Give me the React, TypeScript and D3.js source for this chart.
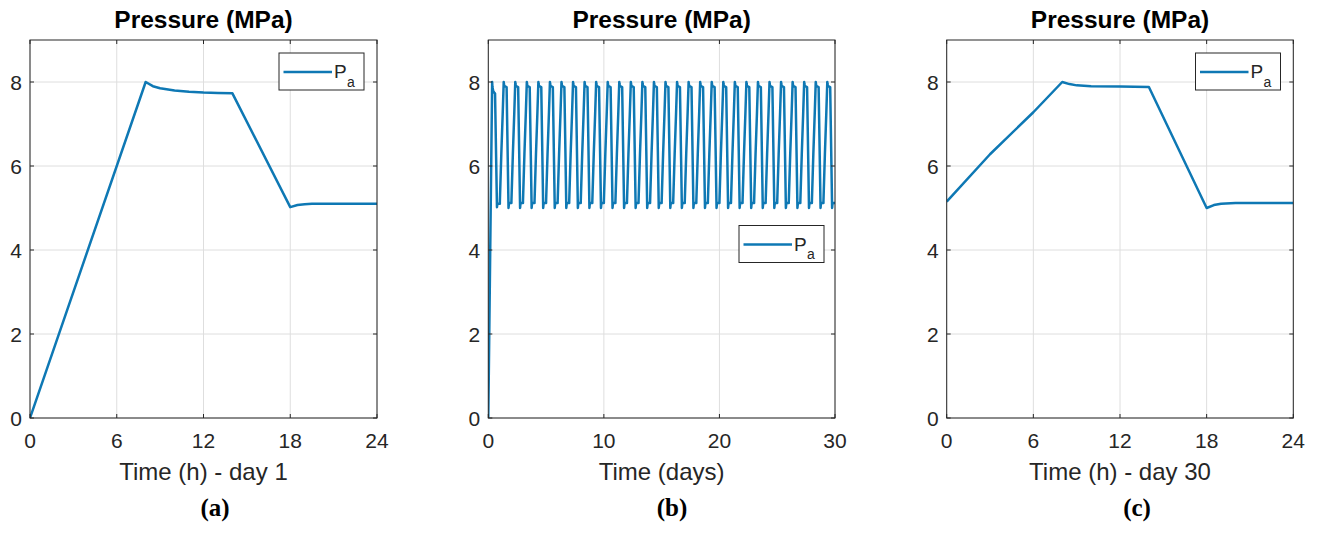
import React from "react";
import * as d3 from "d3";

// ---- Data ----
// Panel (a): day 1 pressure profile (hours, MPa)
const hoursDay1 = [0, 8, 8.5, 9, 10, 11, 12, 13, 14, 18, 18.5, 19, 19.5, 20, 22, 24];
const pressureDay1 = [0, 8.0, 7.9, 7.85, 7.8, 7.77, 7.75, 7.74, 7.73, 5.02, 5.07, 5.09, 5.1, 5.1, 5.1, 5.1];

// Panel (c): day 30 pressure profile (hours, MPa)
const hoursDay30 = [0, 3, 6, 8, 8.5, 9, 10, 12, 14, 18, 18.5, 19, 20, 22, 24];
const pressureDay30 = [5.15, 6.28, 7.28, 8.0, 7.95, 7.92, 7.9, 7.89, 7.88, 5.0, 5.07, 5.1, 5.12, 5.12, 5.12];

// Panel (b): 30 days; day 1 follows profile (a), later days repeat the settled daily cycle (c)
const laterDays = [1, 2, 3, 4, 5, 6, 7, 8, 9, 10, 11, 12, 13, 14, 15, 16, 17, 18, 19, 20, 21, 22, 23, 24, 25, 26, 27, 28, 29];

const hourTicks = [0, 6, 12, 18, 24];
const dayTicks = [0, 10, 20, 30];
const pressureTicks = [0, 2, 4, 6, 8];

const titleText = "Pressure (MPa)";
const legendLabel = "P";
const legendSub = "a";

type Pt = { x: number; y: number };

const seriesA: Pt[] = hoursDay1.map((h, i) => ({ x: h, y: pressureDay1[i] }));
const seriesC: Pt[] = hoursDay30.map((h, i) => ({ x: h, y: pressureDay30[i] }));
const seriesB: Pt[] = [
  ...hoursDay1.map((h, i) => ({ x: h / 24, y: pressureDay1[i] })),
  ...laterDays.flatMap((d) => hoursDay30.map((h, i) => ({ x: d + h / 24, y: pressureDay30[i] }))),
];

const LINE = "#0e78b4";
const AXIS = "#262626";
const GRID = "#dedede";
const FONT = "'Liberation Sans', Arial, sans-serif";

type PanelProps = {
  left: number;
  right: number;
  data: Pt[];
  xDomain: [number, number];
  xTicks: number[];
  xLabel: string;
  caption: string;
  captionX: number;
  legend: { x: number; y: number };
};

const TOP = 40;
const BOTTOM = 418;

function Panel({ left, right, data, xDomain, xTicks, xLabel, caption, captionX, legend }: PanelProps) {
  const x = d3.scaleLinear().domain(xDomain).range([left, right]);
  const y = d3.scaleLinear().domain([0, 9]).range([BOTTOM, TOP]);
  const line = d3
    .line<Pt>()
    .x((d) => x(d.x))
    .y((d) => y(d.y));
  const tl = 4;
  const cx = (left + right) / 2;
  const lw = 85;
  const lh = 37;
  return (
    <g>
      {/* grid */}
      {xTicks.map((t) => (
        <line key={"gx" + t} x1={x(t)} x2={x(t)} y1={TOP} y2={BOTTOM} stroke={GRID} strokeWidth={1} />
      ))}
      {pressureTicks.map((t) => (
        <line key={"gy" + t} x1={left} x2={right} y1={y(t)} y2={y(t)} stroke={GRID} strokeWidth={1} />
      ))}
      {/* data */}
      <clipPath id={"clip" + caption.replace(/[()]/g, "")}>
        <rect x={left} y={TOP} width={right - left} height={BOTTOM - TOP} />
      </clipPath>
      <path
        d={line(data) || ""}
        fill="none"
        stroke={LINE}
        strokeWidth={2.5}
        strokeLinejoin="round"
        clipPath={`url(#clip${caption.replace(/[()]/g, "")})`}
      />
      {/* box */}
      <rect x={left} y={TOP} width={right - left} height={BOTTOM - TOP} fill="none" stroke={AXIS} strokeWidth={1} />
      {/* ticks */}
      {xTicks.map((t) => (
        <g key={"tx" + t}>
          <line x1={x(t)} x2={x(t)} y1={BOTTOM} y2={BOTTOM - tl} stroke={AXIS} />
          <line x1={x(t)} x2={x(t)} y1={TOP} y2={TOP + tl} stroke={AXIS} />
          <text x={x(t)} y={448} textAnchor="middle" fontSize={21} fill={AXIS} fontFamily={FONT}>
            {t}
          </text>
        </g>
      ))}
      {pressureTicks.map((t) => (
        <g key={"ty" + t}>
          <line x1={left} x2={left + tl} y1={y(t)} y2={y(t)} stroke={AXIS} />
          <line x1={right} x2={right - tl} y1={y(t)} y2={y(t)} stroke={AXIS} />
          <text x={left - 8} y={y(t) + 7.5} textAnchor="end" fontSize={21} fill={AXIS} fontFamily={FONT}>
            {t}
          </text>
        </g>
      ))}
      {/* title */}
      <text x={cx} y={28} textAnchor="middle" fontSize={24.5} fontWeight="bold" fill="#000" fontFamily={FONT}>
        {titleText}
      </text>
      {/* x label */}
      <text x={cx} y={480} textAnchor="middle" fontSize={24} fill={AXIS} fontFamily={FONT}>
        {xLabel}
      </text>
      {/* caption */}
      <text
        x={captionX}
        y={516}
        textAnchor="middle"
        fontSize={25}
        fontWeight="bold"
        fill="#000"
        fontFamily="'Liberation Serif', 'Times New Roman', serif"
      >
        {caption}
      </text>
      {/* legend */}
      <rect x={legend.x} y={legend.y} width={lw} height={lh} fill="#fff" stroke={AXIS} strokeWidth={1} />
      <line x1={legend.x + 4.5} x2={legend.x + 53} y1={legend.y + 19} y2={legend.y + 19} stroke={LINE} strokeWidth={2.5} />
      <text x={legend.x + 55} y={legend.y + 25} fontSize={19} fill={AXIS} fontFamily={FONT}>
        {legendLabel}
      </text>
      <text x={legend.x + 68} y={legend.y + 33.5} fontSize={14} fill={AXIS} fontFamily={FONT}>
        {legendSub}
      </text>
    </g>
  );
}

export default function App() {
  return (
    <svg width={1317} height={538} style={{ position: "absolute", left: 0, top: 0, background: "#fff" }}>
      <rect x={0} y={0} width={1317} height={538} fill="#fff" />
      <Panel
        left={30}
        right={377}
        data={seriesA}
        xDomain={[0, 24]}
        xTicks={hourTicks}
        xLabel="Time (h) - day 1"
        caption="(a)"
        captionX={215}
        legend={{ x: 279, y: 53 }}
      />
      <Panel
        left={488.3}
        right={835}
        data={seriesB}
        xDomain={[0, 30]}
        xTicks={dayTicks}
        xLabel="Time (days)"
        caption="(b)"
        captionX={672}
        legend={{ x: 739, y: 225.5 }}
      />
      <Panel
        left={946.7}
        right={1293.3}
        data={seriesC}
        xDomain={[0, 24]}
        xTicks={hourTicks}
        xLabel="Time (h) - day 30"
        caption="(c)"
        captionX={1137}
        legend={{ x: 1195.5, y: 53 }}
      />
    </svg>
  );
}
